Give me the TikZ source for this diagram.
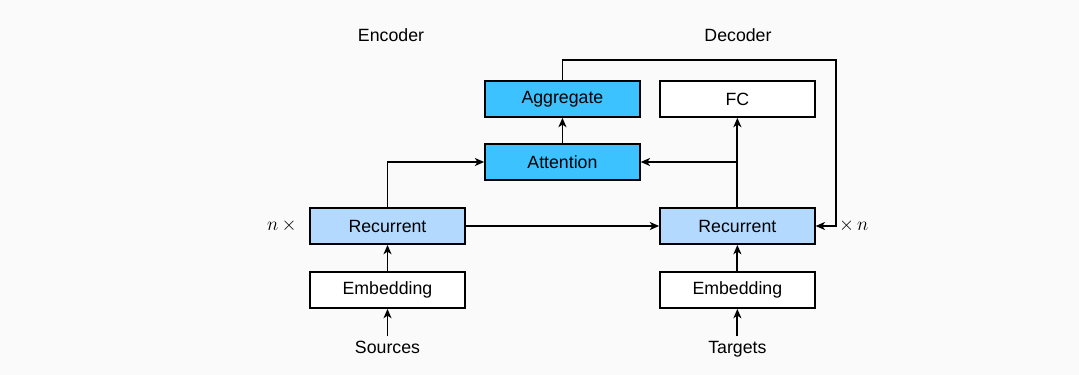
\documentclass[tikz,border=0pt]{standalone}
\usepackage{fontspec}
\setmainfont{Liberation Sans}
\usepackage{tikz}
\usetikzlibrary{positioning,arrows.meta}
\usepackage{xcolor}
\definecolor{attblue}{HTML}{3BC2FF}
\definecolor{rnnblue}{HTML}{B3D9FF}
\definecolor{paper}{HTML}{FAFAFA}

\begin{document}
\begin{tikzpicture}[
    x=0.75pt, y=0.75pt,
    node distance=19.6pt,
    font=\fontsize{13.3}{16}\selectfont,
    box/.style={rectangle, draw, line width=1.4pt, minimum width=116pt, minimum height=27pt, align=center, fill=white},
    attbox/.style={box, fill=attblue},
    rnnbox/.style={box, fill=rnnblue},
    arrow/.style={-{Stealth[length=7pt,width=6pt,inset=2pt]}, line width=1.4pt}
]

\fill[paper] (0,0) rectangle (1079,375);
\useasboundingbox (0,0) rectangle (1079,375);

% recurrent layers of both halves
\node[rnnbox] (encRec) at (387.5,149) {Recurrent};
\node[rnnbox, right=145pt of encRec] (decRec) {Recurrent};

\node[box, below=of encRec] (encEmb) {Embedding};
\node[box, below=of decRec] (decEmb) {Embedding};

\node[below=20.5pt of encEmb] (src) {Sources};
\node[below=20.5pt of decEmb] (tgt) {Targets};

% attention sits between the two halves
\path (encRec.north) -- (decRec.north) coordinate[midway] (mid);
\node[attbox, above=of mid] (attn) {Attention};
\node[attbox, above=18.9pt of attn] (agg) {Aggregate};
\node[box] (fc) at (decRec |- agg) {FC};

\node (enc) at (391,340) {Encoder};
\node (dec) at (738,340) {Decoder};
\node[left=6pt of encRec] (nl) {$n\,\times$};
\node[right=14pt of decRec] (nr) {$\times\,n$};

\draw[arrow] (src) -- (encEmb);
\draw[arrow] (tgt) -- (decEmb);
\draw[arrow] (encEmb) -- (encRec);
\draw[arrow] (decEmb) -- (decRec);
\draw[arrow] (encRec) -- (decRec);
\draw[arrow] (encRec.north) |- (attn.west);
\draw[arrow] (decRec.north) -- (fc.south);
\draw[arrow] (decRec.north |- attn.east) -- (attn.east);
\draw[arrow] (attn) -- (agg);
\draw[arrow] (agg.north) -- ++(0,15pt) -| ([xshift=15pt]decRec.east) -- (decRec.east);

\end{tikzpicture}
\end{document}
